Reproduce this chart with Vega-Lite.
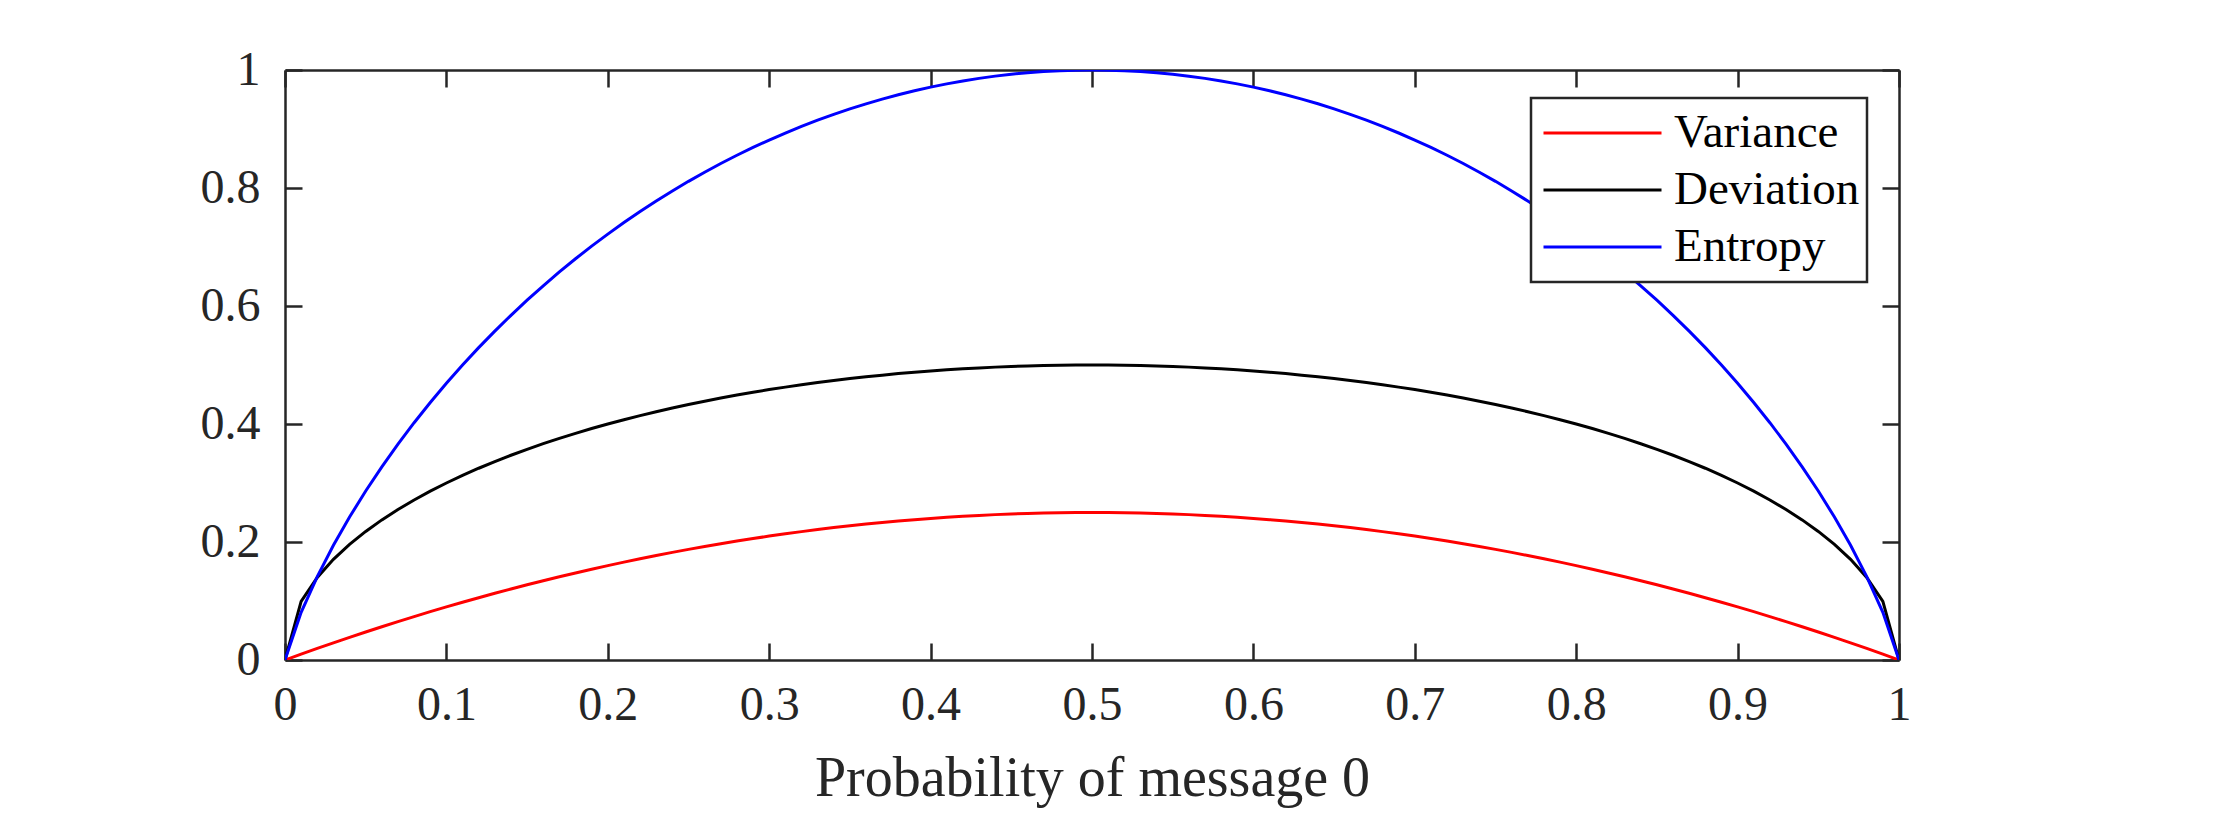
{
  "$schema": "https://vega.github.io/schema/vega-lite/v6.json",
  "width": 1614,
  "height": 590,
  "autosize": "none",
  "padding": {"left": 285, "top": 70, "right": 333, "bottom": 170},
  "background": "white",
  "data": {
    "values": [
      {"p": 0.00, "Variance": 0, "Deviation": 0, "Entropy": 0},
      {"p": 0.01, "Variance": 0.0099, "Deviation": 0.0995, "Entropy": 0.0808},
      {"p": 0.02, "Variance": 0.0196, "Deviation": 0.1400, "Entropy": 0.1414},
      {"p": 0.03, "Variance": 0.0291, "Deviation": 0.1706, "Entropy": 0.1944},
      {"p": 0.04, "Variance": 0.0384, "Deviation": 0.1960, "Entropy": 0.2423},
      {"p": 0.05, "Variance": 0.0475, "Deviation": 0.2179, "Entropy": 0.2864},
      {"p": 0.06, "Variance": 0.0564, "Deviation": 0.2375, "Entropy": 0.3274},
      {"p": 0.07, "Variance": 0.0651, "Deviation": 0.2551, "Entropy": 0.3659},
      {"p": 0.08, "Variance": 0.0736, "Deviation": 0.2713, "Entropy": 0.4022},
      {"p": 0.09, "Variance": 0.0819, "Deviation": 0.2862, "Entropy": 0.4365},
      {"p": 0.10, "Variance": 0.0900, "Deviation": 0.3000, "Entropy": 0.4690},
      {"p": 0.11, "Variance": 0.0979, "Deviation": 0.3129, "Entropy": 0.4999},
      {"p": 0.12, "Variance": 0.1056, "Deviation": 0.3250, "Entropy": 0.5294},
      {"p": 0.13, "Variance": 0.1131, "Deviation": 0.3363, "Entropy": 0.5574},
      {"p": 0.14, "Variance": 0.1204, "Deviation": 0.3470, "Entropy": 0.5842},
      {"p": 0.15, "Variance": 0.1275, "Deviation": 0.3571, "Entropy": 0.6098},
      {"p": 0.16, "Variance": 0.1344, "Deviation": 0.3666, "Entropy": 0.6343},
      {"p": 0.17, "Variance": 0.1411, "Deviation": 0.3756, "Entropy": 0.6577},
      {"p": 0.18, "Variance": 0.1476, "Deviation": 0.3842, "Entropy": 0.6801},
      {"p": 0.19, "Variance": 0.1539, "Deviation": 0.3923, "Entropy": 0.7015},
      {"p": 0.20, "Variance": 0.1600, "Deviation": 0.4000, "Entropy": 0.7219},
      {"p": 0.21, "Variance": 0.1659, "Deviation": 0.4073, "Entropy": 0.7415},
      {"p": 0.22, "Variance": 0.1716, "Deviation": 0.4142, "Entropy": 0.7602},
      {"p": 0.23, "Variance": 0.1771, "Deviation": 0.4208, "Entropy": 0.7780},
      {"p": 0.24, "Variance": 0.1824, "Deviation": 0.4271, "Entropy": 0.7950},
      {"p": 0.25, "Variance": 0.1875, "Deviation": 0.4330, "Entropy": 0.8113},
      {"p": 0.26, "Variance": 0.1924, "Deviation": 0.4386, "Entropy": 0.8267},
      {"p": 0.27, "Variance": 0.1971, "Deviation": 0.4440, "Entropy": 0.8415},
      {"p": 0.28, "Variance": 0.2016, "Deviation": 0.4490, "Entropy": 0.8555},
      {"p": 0.29, "Variance": 0.2059, "Deviation": 0.4538, "Entropy": 0.8687},
      {"p": 0.30, "Variance": 0.2100, "Deviation": 0.4583, "Entropy": 0.8813},
      {"p": 0.31, "Variance": 0.2139, "Deviation": 0.4625, "Entropy": 0.8932},
      {"p": 0.32, "Variance": 0.2176, "Deviation": 0.4665, "Entropy": 0.9044},
      {"p": 0.33, "Variance": 0.2211, "Deviation": 0.4702, "Entropy": 0.9149},
      {"p": 0.34, "Variance": 0.2244, "Deviation": 0.4737, "Entropy": 0.9248},
      {"p": 0.35, "Variance": 0.2275, "Deviation": 0.4770, "Entropy": 0.9341},
      {"p": 0.36, "Variance": 0.2304, "Deviation": 0.4800, "Entropy": 0.9427},
      {"p": 0.37, "Variance": 0.2331, "Deviation": 0.4828, "Entropy": 0.9507},
      {"p": 0.38, "Variance": 0.2356, "Deviation": 0.4854, "Entropy": 0.9580},
      {"p": 0.39, "Variance": 0.2379, "Deviation": 0.4877, "Entropy": 0.9648},
      {"p": 0.40, "Variance": 0.2400, "Deviation": 0.4899, "Entropy": 0.9710},
      {"p": 0.41, "Variance": 0.2419, "Deviation": 0.4918, "Entropy": 0.9765},
      {"p": 0.42, "Variance": 0.2436, "Deviation": 0.4936, "Entropy": 0.9815},
      {"p": 0.43, "Variance": 0.2451, "Deviation": 0.4951, "Entropy": 0.9858},
      {"p": 0.44, "Variance": 0.2464, "Deviation": 0.4964, "Entropy": 0.9896},
      {"p": 0.45, "Variance": 0.2475, "Deviation": 0.4975, "Entropy": 0.9928},
      {"p": 0.46, "Variance": 0.2484, "Deviation": 0.4984, "Entropy": 0.9954},
      {"p": 0.47, "Variance": 0.2491, "Deviation": 0.4991, "Entropy": 0.9974},
      {"p": 0.48, "Variance": 0.2496, "Deviation": 0.4996, "Entropy": 0.9988},
      {"p": 0.49, "Variance": 0.2499, "Deviation": 0.4999, "Entropy": 0.9997},
      {"p": 0.50, "Variance": 0.2500, "Deviation": 0.5000, "Entropy": 1.0000},
      {"p": 0.51, "Variance": 0.2499, "Deviation": 0.4999, "Entropy": 0.9997},
      {"p": 0.52, "Variance": 0.2496, "Deviation": 0.4996, "Entropy": 0.9988},
      {"p": 0.53, "Variance": 0.2491, "Deviation": 0.4991, "Entropy": 0.9974},
      {"p": 0.54, "Variance": 0.2484, "Deviation": 0.4984, "Entropy": 0.9954},
      {"p": 0.55, "Variance": 0.2475, "Deviation": 0.4975, "Entropy": 0.9928},
      {"p": 0.56, "Variance": 0.2464, "Deviation": 0.4964, "Entropy": 0.9896},
      {"p": 0.57, "Variance": 0.2451, "Deviation": 0.4951, "Entropy": 0.9858},
      {"p": 0.58, "Variance": 0.2436, "Deviation": 0.4936, "Entropy": 0.9815},
      {"p": 0.59, "Variance": 0.2419, "Deviation": 0.4918, "Entropy": 0.9765},
      {"p": 0.60, "Variance": 0.2400, "Deviation": 0.4899, "Entropy": 0.9710},
      {"p": 0.61, "Variance": 0.2379, "Deviation": 0.4877, "Entropy": 0.9648},
      {"p": 0.62, "Variance": 0.2356, "Deviation": 0.4854, "Entropy": 0.9580},
      {"p": 0.63, "Variance": 0.2331, "Deviation": 0.4828, "Entropy": 0.9507},
      {"p": 0.64, "Variance": 0.2304, "Deviation": 0.4800, "Entropy": 0.9427},
      {"p": 0.65, "Variance": 0.2275, "Deviation": 0.4770, "Entropy": 0.9341},
      {"p": 0.66, "Variance": 0.2244, "Deviation": 0.4737, "Entropy": 0.9248},
      {"p": 0.67, "Variance": 0.2211, "Deviation": 0.4702, "Entropy": 0.9149},
      {"p": 0.68, "Variance": 0.2176, "Deviation": 0.4665, "Entropy": 0.9044},
      {"p": 0.69, "Variance": 0.2139, "Deviation": 0.4625, "Entropy": 0.8932},
      {"p": 0.70, "Variance": 0.2100, "Deviation": 0.4583, "Entropy": 0.8813},
      {"p": 0.71, "Variance": 0.2059, "Deviation": 0.4538, "Entropy": 0.8687},
      {"p": 0.72, "Variance": 0.2016, "Deviation": 0.4490, "Entropy": 0.8555},
      {"p": 0.73, "Variance": 0.1971, "Deviation": 0.4440, "Entropy": 0.8415},
      {"p": 0.74, "Variance": 0.1924, "Deviation": 0.4386, "Entropy": 0.8267},
      {"p": 0.75, "Variance": 0.1875, "Deviation": 0.4330, "Entropy": 0.8113},
      {"p": 0.76, "Variance": 0.1824, "Deviation": 0.4271, "Entropy": 0.7950},
      {"p": 0.77, "Variance": 0.1771, "Deviation": 0.4208, "Entropy": 0.7780},
      {"p": 0.78, "Variance": 0.1716, "Deviation": 0.4142, "Entropy": 0.7602},
      {"p": 0.79, "Variance": 0.1659, "Deviation": 0.4073, "Entropy": 0.7415},
      {"p": 0.80, "Variance": 0.1600, "Deviation": 0.4000, "Entropy": 0.7219},
      {"p": 0.81, "Variance": 0.1539, "Deviation": 0.3923, "Entropy": 0.7015},
      {"p": 0.82, "Variance": 0.1476, "Deviation": 0.3842, "Entropy": 0.6801},
      {"p": 0.83, "Variance": 0.1411, "Deviation": 0.3756, "Entropy": 0.6577},
      {"p": 0.84, "Variance": 0.1344, "Deviation": 0.3666, "Entropy": 0.6343},
      {"p": 0.85, "Variance": 0.1275, "Deviation": 0.3571, "Entropy": 0.6098},
      {"p": 0.86, "Variance": 0.1204, "Deviation": 0.3470, "Entropy": 0.5842},
      {"p": 0.87, "Variance": 0.1131, "Deviation": 0.3363, "Entropy": 0.5574},
      {"p": 0.88, "Variance": 0.1056, "Deviation": 0.3250, "Entropy": 0.5294},
      {"p": 0.89, "Variance": 0.0979, "Deviation": 0.3129, "Entropy": 0.4999},
      {"p": 0.90, "Variance": 0.0900, "Deviation": 0.3000, "Entropy": 0.4690},
      {"p": 0.91, "Variance": 0.0819, "Deviation": 0.2862, "Entropy": 0.4365},
      {"p": 0.92, "Variance": 0.0736, "Deviation": 0.2713, "Entropy": 0.4022},
      {"p": 0.93, "Variance": 0.0651, "Deviation": 0.2551, "Entropy": 0.3659},
      {"p": 0.94, "Variance": 0.0564, "Deviation": 0.2375, "Entropy": 0.3274},
      {"p": 0.95, "Variance": 0.0475, "Deviation": 0.2179, "Entropy": 0.2864},
      {"p": 0.96, "Variance": 0.0384, "Deviation": 0.1960, "Entropy": 0.2423},
      {"p": 0.97, "Variance": 0.0291, "Deviation": 0.1706, "Entropy": 0.1944},
      {"p": 0.98, "Variance": 0.0196, "Deviation": 0.1400, "Entropy": 0.1414},
      {"p": 0.99, "Variance": 0.0099, "Deviation": 0.0995, "Entropy": 0.0808},
      {"p": 1.00, "Variance": 0, "Deviation": 0, "Entropy": 0}
    ]
  },
  "transform": [
    {"fold": ["Variance", "Deviation", "Entropy"], "as": ["measure", "value"]}
  ],
  "layer": [
    {
      "mark": {"type": "line", "strokeWidth": 3, "clip": true},
      "encoding": {
        "x": {
          "field": "p", "type": "quantitative",
          "scale": {"domain": [0, 1], "nice": false, "zero": false},
          "axis": {
            "orient": "bottom", "title": "Probability of message 0",
            "values": [0, 0.1, 0.2, 0.3, 0.4, 0.5, 0.6, 0.7, 0.8, 0.9, 1],
            "format": "~g", "labelPadding": 38, "titlePadding": 22, "labelFlush": false
          }
        },
        "y": {
          "field": "value", "type": "quantitative",
          "scale": {"domain": [0, 1], "nice": false},
          "axis": {
            "orient": "left", "title": null,
            "values": [0, 0.2, 0.4, 0.6, 0.8, 1],
            "format": "~g", "labelPadding": 42, "labelFlush": false
          }
        },
        "color": {
          "field": "measure", "type": "nominal",
          "scale": {"domain": ["Variance", "Deviation", "Entropy"], "range": ["#ff0000", "#000000", "#0000ff"]},
          "sort": ["Variance", "Deviation", "Entropy"],
          "legend": {
            "title": null, "orient": "none", "legendX": 1246, "legendY": 28,
            "symbolType": "stroke", "symbolSize": 13924, "symbolStrokeWidth": 3,
            "symbolOffset": 4, "clipHeight": 56,
            "labelFont": "Liberation Serif", "labelFontSize": 47, "labelColor": "#000000",
            "labelOffset": 11, "rowPadding": 1, "padding": 7,
            "strokeColor": "#262626", "fillColor": "#ffffff",
            "labelLimit": 400,
            "encode": {"legend": {"update": {"strokeWidth": {"value": 2.5}}}}
          }
        },
        "order": {"field": "measure"}
      }
    },
    {
      "mark": {"type": "line", "strokeOpacity": 0},
      "encoding": {
        "x": {
          "field": "p", "type": "quantitative",
          "axis": {"orient": "top", "title": null, "labels": false,
                   "values": [0, 0.1, 0.2, 0.3, 0.4, 0.5, 0.6, 0.7, 0.8, 0.9, 1]}
        },
        "y": {
          "field": "value", "type": "quantitative",
          "axis": {"orient": "right", "title": null, "labels": false,
                   "values": [0, 0.2, 0.4, 0.6, 0.8, 1]}
        },
        "detail": {"field": "measure"}
      }
    }
  ],
  "resolve": {"axis": {"x": "independent", "y": "independent"}},
  "config": {
    "view": {"stroke": null},
    "font": "Liberation Serif",
    "axis": {
      "domainColor": "#262626", "domainWidth": 2.5,
      "tickColor": "#262626", "tickWidth": 2.5, "tickSize": -17,
      "grid": false,
      "labelFont": "Liberation Serif", "labelFontSize": 48, "labelColor": "#262626",
      "titleFont": "Liberation Serif", "titleFontSize": 56, "titleColor": "#262626",
      "titleFontWeight": "normal"
    }
  }
}
